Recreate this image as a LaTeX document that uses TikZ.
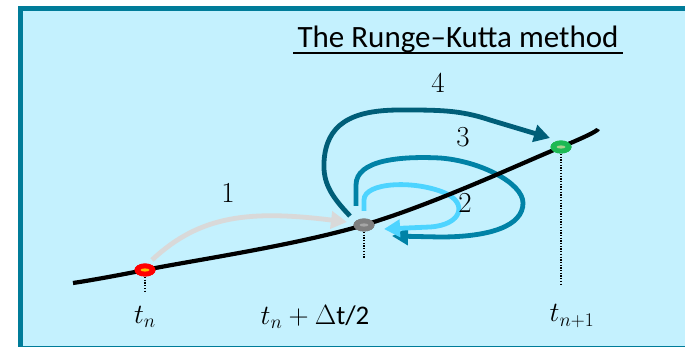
\documentclass[tikz,border=0pt]{standalone}
\usepackage{fontspec}
\newfontfamily\carlito[Ligatures=TeX]{Carlito}
\usetikzlibrary{arrows.meta,shapes.geometric}
\definecolor{bgc}{HTML}{C4F1FE}
\definecolor{framec}{HTML}{007C99}
\definecolor{aone}{HTML}{D9D9D9}
\definecolor{atwo}{HTML}{4DD4FF}
\definecolor{athree}{HTML}{0082A6}
\definecolor{afour}{HTML}{005E78}
\definecolor{dotred}{HTML}{FF0000}
\definecolor{dotyel}{HTML}{FFC000}
\definecolor{dotgray}{HTML}{7F7F7F}
\definecolor{dotgrayin}{HTML}{A6A6A6}
\definecolor{dotgreen}{HTML}{1DB954}
\definecolor{dotgreenin}{HTML}{A9D18E}
\tikzset{
  pt/.style={ellipse, minimum width=21pt, minimum height=13pt, inner sep=0pt},
  stepline/.style={line width=4.8pt, -{Triangle[length=16pt,width=17pt]}},
  guide/.style={line width=1.3pt, dash pattern=on 1.3pt off 1.4pt},
  lbl/.style={font=\fontsize{29}{32}\selectfont, inner sep=0pt},
  tlbl/.style={font=\fontsize{24}{26}\selectfont, inner sep=0pt, scale=1.12},
}
\begin{document}
\begin{tikzpicture}[x=1pt,y=-1pt]
\useasboundingbox (0,0) rectangle (685,347);
\begin{scope}
\clip (0,0) rectangle (685,347);
\draw[framec, fill=bgc, line width=5pt] (20.5,8.5) rectangle (720,348.5);
\end{scope}

% title
\node[font=\carlito\fontsize{31}{34}\selectfont, inner sep=0pt, anchor=base] (title) at (458,48) {The Runge–Kutta method};
\draw[line width=2pt] (293,53.5) -- (623,53.5);

% points on the curve
\coordinate (c0) at (73,283);
\coordinate (c4) at (598,129);
\node[pt, fill=dotred] (pa) at (145,270) {};
\node[pt, fill=dotgray] (pb) at (364,225) {};
\node[pt, fill=dotgreen] (pc) at (561,147) {};

% guide lines
\coordinate (ga) at (145,293);
\coordinate (gb) at (364,258);
\coordinate (gc) at (561,284);
\draw[guide] (pa.center) ++(0,7) -- (ga);
\draw[guide] (pb.center) ++(0,7) -- (gb);
\draw[guide] (pc.center) ++(0,7) -- (gc);

% arrows
\draw[stepline, aone] (152,260) .. controls (200,215) and (250,210) .. (347,222);
\draw[stepline, afour] (350,216) .. controls (330,195) and (323,182) .. (324,162)
   .. controls (326,125) and (350,110) .. (400,110)
   .. controls (440,110) and (460,110) .. (490,120) -- (550,138);
\draw[stepline, athree] (356,206) -- (356,185) .. controls (356,160) and (400,156) .. (440,158)
   .. controls (480,161) and (523,183) .. (523,203)
   .. controls (523,226) and (490,237) .. (440,237) -- (392,236);
\draw[stepline, atwo] (364,211) -- (364,200) .. controls (364,182) and (415,180) .. (445,193)
   .. controls (468,203) and (462,225) .. (430,227) -- (384,229);

% curve
\draw[line width=4.2pt] plot[smooth, tension=0.6] coordinates {(c0) (pa.center) (pb.center) (pc.center) (c4)};

% dots on top
\node[pt, fill=dotred] at (pa) {};
\node[pt, fill=dotgray] at (pb) {};
\node[pt, fill=dotgreen] at (pc) {};
\fill[dotyel] (pa.center) ellipse (4.5pt and 1.6pt);
\fill[dotgrayin] (pb.center) ellipse (4.5pt and 1.6pt);
\fill[dotgreenin] (pc.center) ellipse (4.5pt and 1.6pt);

% labels
\node[lbl] (l1) at (228,193) {1};
\node[lbl] (l2) at (465,203) {2};
\node[lbl] (l3) at (463,137) {3};
\node[lbl] (l4) at (438,83) {4};
\node[tlbl] (ta) at (145,317) {$t_n$};
\node[tlbl] (tb) at (315,317) {$t_n + {}$\carlito $\Delta$t/2};
\node[tlbl] (tc) at (572,316) {$t_{n+1}$};
\end{tikzpicture}
\end{document}
